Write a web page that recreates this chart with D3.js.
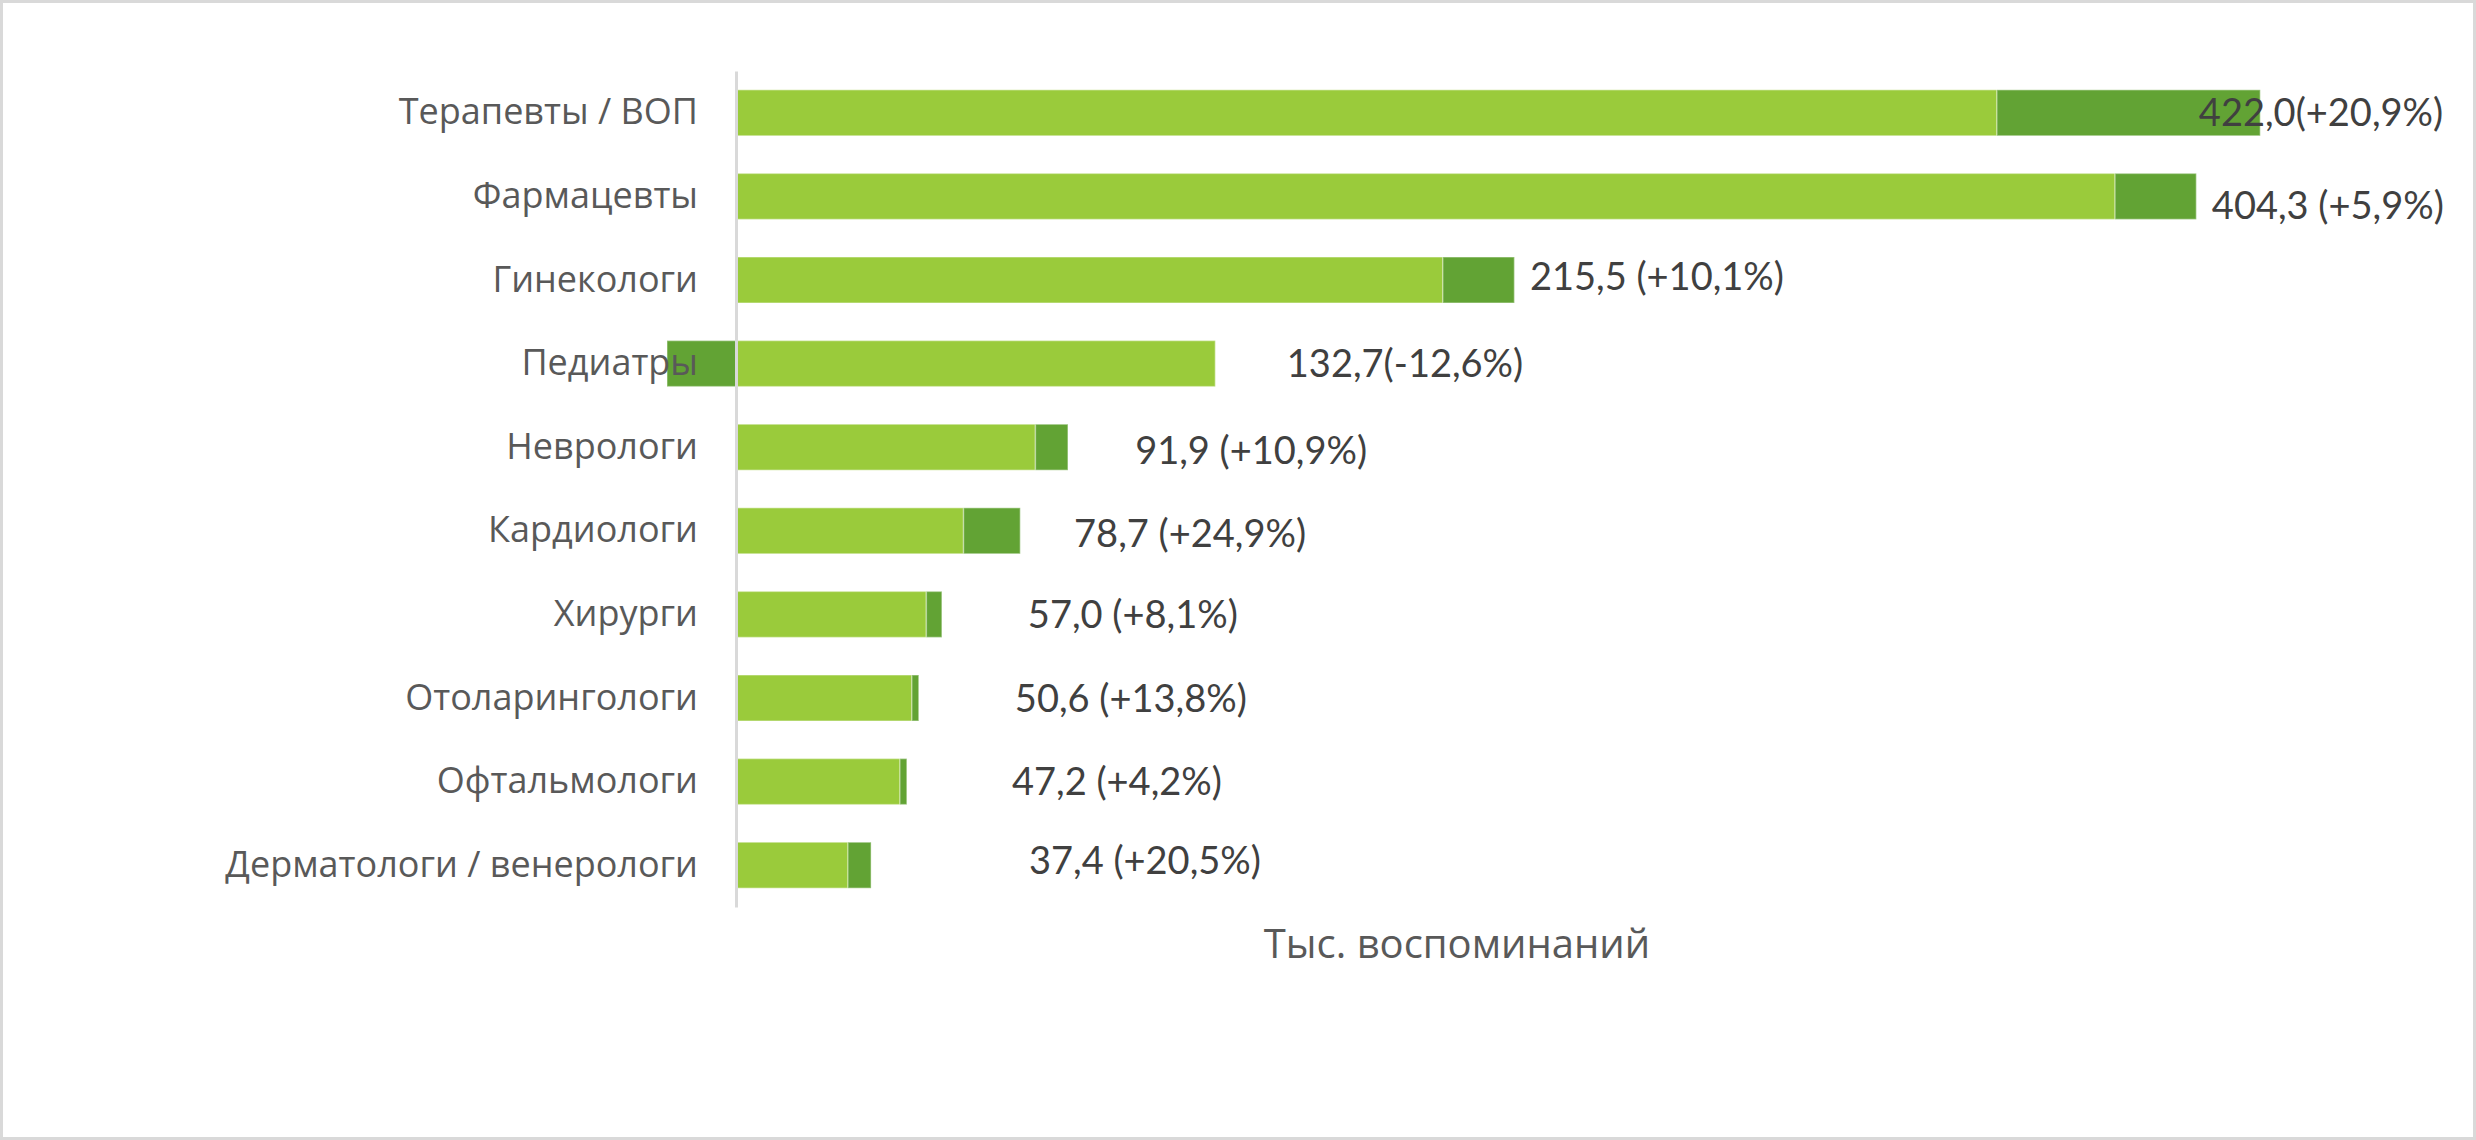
<!DOCTYPE html>
<html lang="ru">
  <head>
    <meta charset="utf-8" />
    <title>Тыс. воспоминаний</title>
    <script src="https://cdn.jsdelivr.net/npm/d3@7"></script>
    <style>
      body { margin: 0; background: #fff; }
    </style>
  </head>
  <body>
    <div id="root"></div>

    <script type="text/javascript">
      /************************************
       * data
       ************************************/

      const categories = [
        "Терапевты / ВОП",
        "Фармацевты",
        "Гинекологи",
        "Педиатры",
        "Неврологи",
        "Кардиологи",
        "Хирурги",
        "Отоларингологи",
        "Офтальмологи",
        "Дерматологи / венерологи",
      ];

      // previous level (light green) and change (dark green), thousands
      const baseValues = [349.1, 381.8, 195.7, 132.7, 82.9, 63.0, 52.7, 48.7, 45.4, 31.0];
      const changeValues = [72.9, 22.5, 19.8, -19.1, 9.0, 15.7, 4.3, 1.9, 1.9, 6.4];

      const valueLabels = [
        "422,0(+20,9%)",
        "404,3 (+5,9%)",
        "215,5 (+10,1%)",
        "132,7(-12,6%)",
        "91,9 (+10,9%)",
        "78,7 (+24,9%)",
        "57,0 (+8,1%)",
        "50,6 (+13,8%)",
        "47,2 (+4,2%)",
        "37,4 (+20,5%)",
      ];

      // where the labels were dragged to (in axis units) and small vertical nudges
      const labelAt = [405.0, 408.6, 219.8, 152.5, 110.5, 93.6, 80.8, 77.2, 76.4, 81.1];
      const labelDy = [0, 9, -4, 0, 3, 3, 0, 0, 0, -5];

      const axisTitle = "Тыс. воспоминаний";

      /**********************************
       * chart
       *************************************/

      const width = 2476;
      const height = 1140;
      const lightGreen = "#9acb3b";
      const darkGreen = "#62a334";

      const rows = categories.map((c, i) => ({
        category: c,
        base: baseValues[i],
        change: changeValues[i],
      }));

      const stacked = d3
        .stack()
        .keys(["base", "change"])
        .offset(d3.stackOffsetDiverging)(rows);

      const xScale = d3.scaleLinear().domain([0, 450]).range([736, 2361.4]);

      const yScale = d3
        .scaleBand()
        .domain(categories)
        .range([71, 907])
        .paddingInner(0.45)
        .paddingOuter(0.225);

      const svg = d3
        .select("#root")
        .append("svg")
        .attr("width", width)
        .attr("height", height);

      // outer frame
      svg
        .append("rect")
        .attr("x", 1.5)
        .attr("y", 1.5)
        .attr("width", width - 3)
        .attr("height", height - 3)
        .attr("fill", "#fff")
        .attr("stroke", "#d9d9d9")
        .attr("stroke-width", 3);

      // bars
      const colors = [lightGreen, darkGreen];
      svg
        .append("g")
        .selectAll("g")
        .data(stacked)
        .join("g")
        .attr("fill", (d, i) => colors[i])
        .selectAll("rect")
        .data((d) => d)
        .join("rect")
        .attr("x", (d) => xScale(Math.min(d[0], d[1])))
        .attr("y", (d) => yScale(d.data.category))
        .attr("width", (d) => Math.abs(xScale(d[1]) - xScale(d[0])))
        .attr("height", yScale.bandwidth())
        .attr("stroke", "#ffffff")
        .attr("stroke-opacity", 0.35)
        .attr("stroke-width", 1.5);

      // category axis
      const yAxis = svg
        .append("g")
        .attr("transform", `translate(${xScale(0)},0)`)
        .call(d3.axisLeft(yScale).tickSize(0).tickSizeOuter(0).tickPadding(38));
      yAxis.select(".domain").attr("stroke", "#d9d9d9").attr("stroke-width", 3);
      yAxis
        .selectAll("text")
        .attr("fill", "#595959")
        .attr("font-family", "'Open Sans', sans-serif")
        .attr("font-size", 36);

      // value labels
      svg
        .append("g")
        .selectAll("text")
        .data(valueLabels)
        .join("text")
        .attr("x", (d, i) => xScale(labelAt[i]))
        .attr("y", (d, i) => yScale(categories[i]) + yScale.bandwidth() / 2 + labelDy[i])
        .attr("dy", "0.36em")
        .attr("fill", "#404040")
        .attr("font-family", "Lato, sans-serif")
        .attr("font-size", 38)
        .text((d) => d);

      // axis title
      svg
        .append("text")
        .attr("x", 1457)
        .attr("y", 958)
        .attr("text-anchor", "middle")
        .attr("fill", "#595959")
        .attr("font-family", "'Open Sans', sans-serif")
        .attr("font-size", 40)
        .text(axisTitle);
    </script>
  </body>
</html>
